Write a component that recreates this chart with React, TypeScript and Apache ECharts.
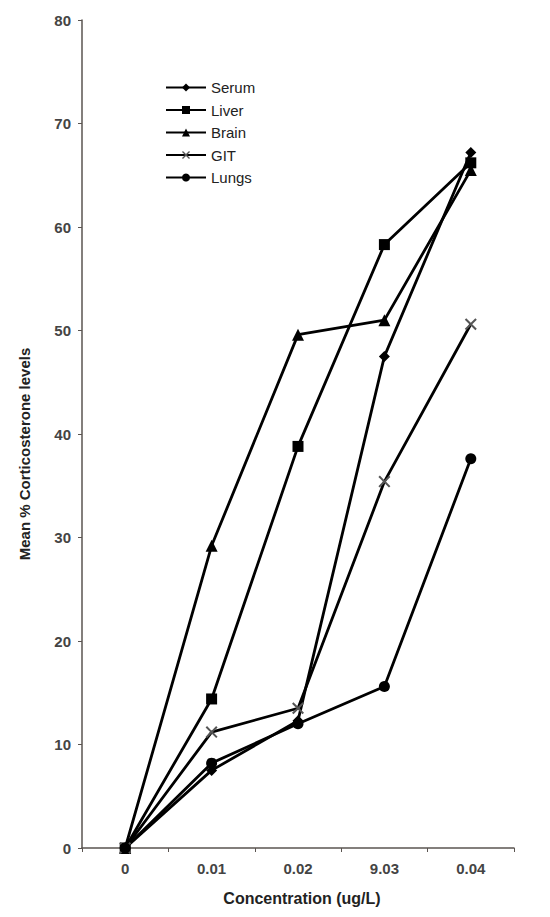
import React, { useEffect, useRef } from "react";
import * as echarts from "echarts";

const categories = ["0", "0.01", "0.02", "9.03", "0.04"];
const serum = [0, 7.5, 12.3, 47.5, 67.2];
const liver = [0, 14.4, 38.8, 58.3, 66.2];
const brain = [0, 29.2, 49.6, 51.0, 65.5];
const git = [0, 11.2, 13.5, 35.4, 50.6];
const lungs = [0, 8.2, 12.0, 15.6, 37.6];
const seriesNames = ["Serum", "Liver", "Brain", "GIT", "Lungs"];

const xSymbol =
  "path://M0,1.2 L1.2,0 L5,3.8 L8.8,0 L10,1.2 L6.2,5 L10,8.8 L8.8,10 L5,6.2 L1.2,10 L0,8.8 L3.8,5 Z";

export default function App() {
  const ref = useRef<HTMLDivElement>(null);
  useEffect(() => {
    if (!ref.current) return;
    const chart = echarts.init(ref.current, undefined, { renderer: "svg" });
    const font = "'Liberation Sans', Arial, sans-serif";
    const mk = (name: string, data: number[], symbol: string, size: number, color = "#000") => ({
      name,
      type: "line",
      data,
      symbol,
      symbolSize: size,
      showSymbol: true,
      lineStyle: { color: "#000", width: 2.8 },
      itemStyle: { color, borderColor: color, borderWidth: 0 },
      emphasis: { disabled: true },
    });
    chart.setOption({
      animation: false,
      backgroundColor: "#fff",
      textStyle: { fontFamily: font },
      grid: { left: 82, top: 20, right: 36, bottom: 69 },
      legend: {
        data: seriesNames,
        orient: "vertical",
        left: 160,
        top: 75,
        itemWidth: 40,
        itemHeight: 10,
        itemGap: 7.5,
        textStyle: { fontFamily: font, fontSize: 15, color: "#222", padding: [0, 0, 0, 0] },
      },
      xAxis: {
        type: "category",
        data: categories,
        boundaryGap: true,
        axisLine: { lineStyle: { color: "#5a5450", width: 1.5 } },
        axisTick: { show: true, length: 4, inside: false, lineStyle: { color: "#5a5450" } },
        axisLabel: { color: "#444", fontSize: 15, fontWeight: 600, fontFamily: font, margin: 13 },
        name: "Concentration (ug/L)",
        nameLocation: "middle",
        nameGap: 42,
        nameTextStyle: { fontFamily: font, fontWeight: "bold", fontSize: 16, color: "#222", padding: [0, 0, 0, 8] },
        splitLine: { show: false },
      },
      yAxis: {
        type: "value",
        min: 0,
        max: 80,
        interval: 10,
        axisLine: { show: true, lineStyle: { color: "#5a5450", width: 1.5 } },
        axisTick: { show: true, length: 4, lineStyle: { color: "#5a5450" } },
        axisLabel: { color: "#444", fontSize: 15, fontWeight: 600, fontFamily: font, margin: 11 },
        splitLine: { show: false },
      },
      graphic: [
        {
          type: "text",
          x: 24,
          y: 454,
          rotation: Math.PI / 2,
          style: {
            text: "Mean % Corticosterone levels",
            fontFamily: font,
            fontWeight: "bold",
            fontSize: 15,
            fill: "#222",
            align: "center",
            verticalAlign: "middle",
          },
        },
      ],
      series: [
        mk("Serum", serum, "diamond", 11),
        mk("Liver", liver, "rect", 11),
        mk("Brain", brain, "triangle", 12),
        mk("GIT", git, xSymbol, 12, "#555"),
        mk("Lungs", lungs, "circle", 11),
      ],
    });
    return () => chart.dispose();
  }, []);
  return <div ref={ref} style={{ width: 550, height: 917, margin: -8 }} />;
}
